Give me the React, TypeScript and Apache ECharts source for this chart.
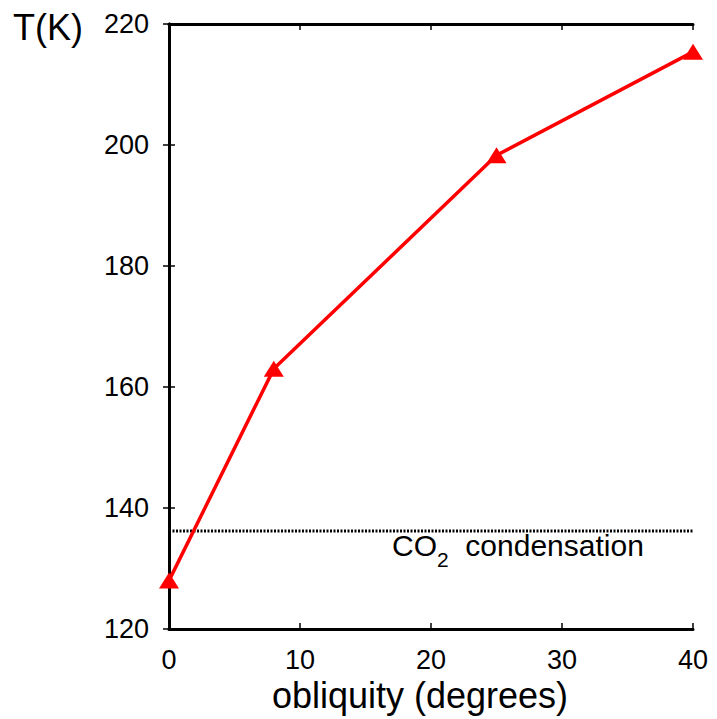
import React, { useEffect, useRef } from "react";
import * as echarts from "echarts";

const obliquity = [0, 8, 25, 40];
const temperature = [128.0, 163.0, 198.3, 215.4];
const co2Condensation = 136.2;
const xTicks = { min: 0, max: 40, interval: 10 };
const yTicks = { min: 120, max: 220, interval: 20 };

const FONT = "Liberation Sans";

export default function App() {
  const ref = useRef<HTMLDivElement>(null);
  useEffect(() => {
    const chart = echarts.init(ref.current!, undefined, { renderer: "svg" });
    const axisLine = { show: true, lineStyle: { color: "#000", width: 3 } };
    const tick = { show: true, inside: true, length: 6, lineStyle: { color: "#000", width: 1.5 } };
    chart.setOption({
      animation: false,
      backgroundColor: "#fff",
      grid: { left: 169, right: 24, top: 24, bottom: 90, containLabel: false, outerBoundsMode: "none" },
      xAxis: [
        {
          type: "value",
          ...xTicks,
          position: "bottom",
          axisLine,
          axisTick: tick,
          splitLine: { show: false },
          axisLabel: { fontFamily: FONT, fontSize: 27, color: "#000", margin: 17 },
          name: "obliquity (degrees)",
          nameLocation: "middle",
          nameGap: 48,
          nameTextStyle: { fontFamily: FONT, fontSize: 36, color: "#000", padding: [0, 22, 0, 0] },
        },
        {
          type: "value",
          ...xTicks,
          position: "top",
          axisLine,
          axisTick: tick,
          splitLine: { show: false },
          axisLabel: { show: false },
        },
      ],
      yAxis: [
        {
          type: "value",
          ...yTicks,
          position: "left",
          axisLine,
          axisTick: tick,
          splitLine: { show: false },
          axisLabel: { fontFamily: FONT, fontSize: 27, color: "#000", margin: 20 },
        },
        {
          type: "value",
          ...yTicks,
          position: "right",
          axisLine,
          axisTick: tick,
          splitLine: { show: false },
          axisLabel: { show: false },
        },
      ],
      graphic: [
        {
          type: "text",
          left: 13,
          top: 9,
          style: { text: "T(K)", fontFamily: FONT, fontSize: 36, fill: "#000" },
        },
        {
          type: "text",
          left: 392,
          top: 530,
          style: {
            text: "{a|CO}{s|2}{a|  condensation}",
            rich: {
              a: { fontFamily: FONT, fontSize: 30, lineHeight: 34, fill: "#000", verticalAlign: "top" },
              s: {
                fontFamily: FONT,
                fontSize: 21,
                lineHeight: 21,
                fill: "#000",
                padding: [19, 0, 0, 0],
                verticalAlign: "top",
              },
            },
          },
        },
      ],
      series: [
        {
          type: "line",
          data: [
            [xTicks.min, co2Condensation],
            [xTicks.max, co2Condensation],
          ],
          showSymbol: false,
          symbol: "none",
          lineStyle: { color: "#000", width: 3, type: [2, 1.5] },
          z: 1,
        },
        {
          type: "line",
          data: obliquity.map((x, i) => [x, temperature[i]]),
          symbol: "triangle",
          symbolSize: [20, 16],
          itemStyle: { color: "#ff0000" },
          lineStyle: { color: "#ff0000", width: 3.5 },
          z: 3,
        },
      ],
    });
    return () => chart.dispose();
  }, []);
  return <div ref={ref} style={{ width: 717, height: 719, position: "absolute", left: 0, top: 0 }} />;
}
